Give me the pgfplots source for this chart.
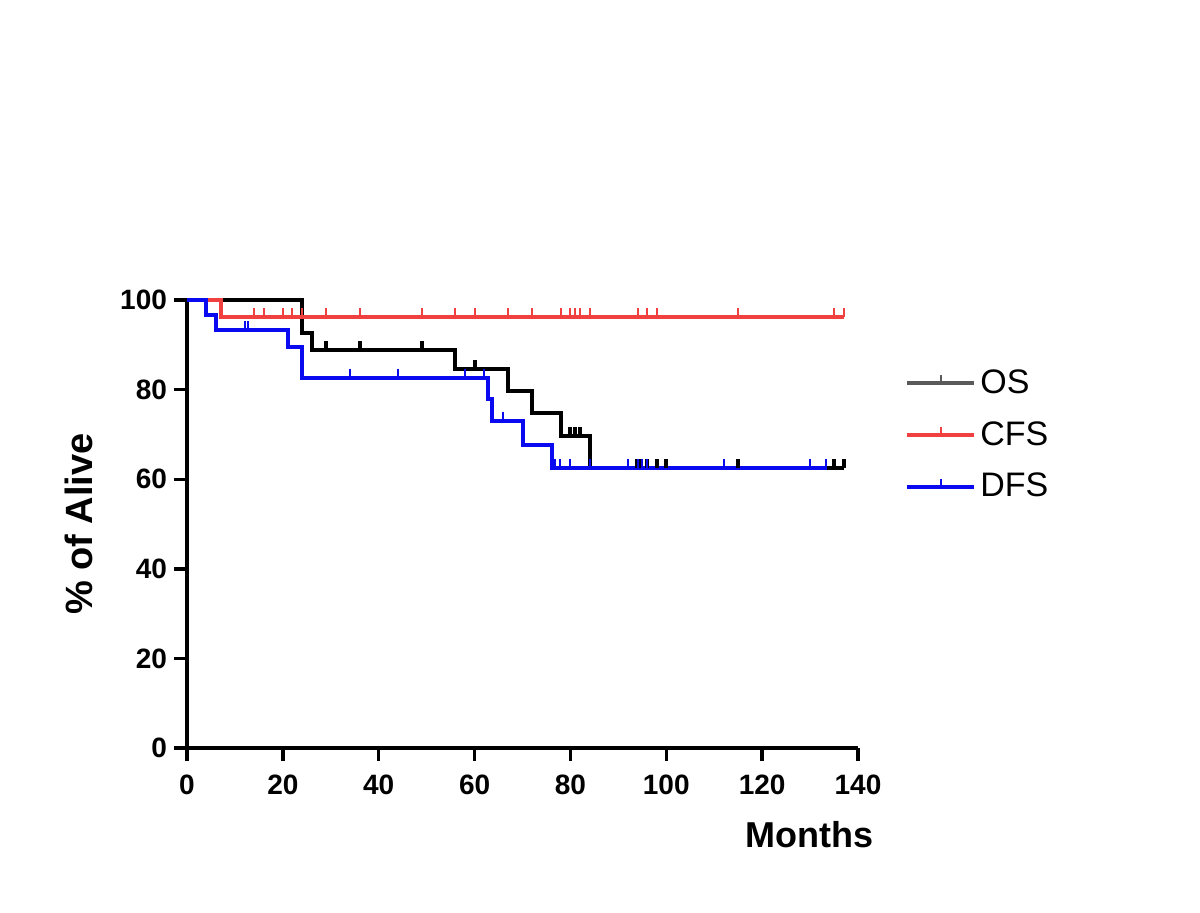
\documentclass[border=0pt]{standalone}
\usepackage{pgfplots}
\pgfplotsset{compat=1.18}
\usepackage{fontspec}
\setmainfont{Liberation Sans}
\definecolor{osblack}{RGB}{0,0,0}
\definecolor{cfsred}{RGB}{240,64,64}
\definecolor{dfsblue}{RGB}{10,10,240}
\definecolor{legend gray}{RGB}{90,90,90}
\pgfdeclareplotmark{cens}{\pgfpathmoveto{\pgfpoint{0pt}{0pt}}\pgfpathlineto{\pgfpoint{0pt}{4.5pt}}\pgfusepathqstroke}
\begin{document}
\begin{tikzpicture}
\path[use as bounding box] (0,0) rectangle (600pt,456pt);
\begin{axis}[
  at={(93.5pt,82pt)}, anchor=south west,
  scale only axis, width=335.5pt, height=224pt,
  xmin=0, xmax=140, ymin=0, ymax=100,
  clip=false,
  axis lines=left,
  axis line style={line width=1.7pt, -},
  xtick={0,20,...,140}, ytick={0,20,...,100},
  tick style={line width=1.7pt, black},
  tick align=outside, major tick length=6.5pt,
  /pgf/number format/assume math mode=true,
  ticklabel style={font=\fontsize{14}{16}\selectfont\bfseries},
  xticklabel style={yshift=-3.5pt},
  xlabel={Months}, ylabel={\% of Alive},
  xlabel style={font=\fontsize{18}{21}\selectfont\bfseries, at={(axis description cs:0.928,-0.194)}, anchor=center},
  ylabel style={font=\fontsize{19}{22}\selectfont\bfseries, at={(axis description cs:-0.161,0.5)}, anchor=center},
  legend style={at={(axis description cs:1.07,0.699)}, anchor=west,
    draw=none, fill=none, inner sep=0pt, row sep=8.5pt,
    font=\fontsize{17}{20}\selectfont},
  legend cell align=left,
  legend image code/.code={
    \draw[#1] (0pt,0pt) -- (33.5pt,0pt);
    \draw[#1, line width=1pt] (16.75pt,0pt) -- (16.75pt,4pt);
  },
]
\addlegendimage{legend gray, line width=2pt}
\addlegendentry{OS}
\addlegendimage{cfsred, line width=2pt}
\addlegendentry{CFS}
\addlegendimage{dfsblue, line width=2pt}
\addlegendentry{DFS}

% OS
\addplot[forget plot, const plot, osblack, line width=2pt] coordinates {
(0,100) (24,92.6) (26,88.9) (56,84.5) (67,79.6) (72,74.7) (78,69.6) (84,62.5) (137,62.5)};
\addplot[forget plot, only marks, mark=cens, osblack, mark options={line width=2pt}] coordinates {
(29,88.9) (36,88.9) (49,88.9) (60,84.5) (80,69.6) (81,69.6) (82,69.6)
(93.8,62.5) (94.6,62.5) (95.9,62.5) (98,62.5) (100,62.5) (115,62.5) (135,62.5) (137,62.5)};

% CFS
\addplot[forget plot, const plot, cfsred, line width=2pt] coordinates {
(0,100) (7,96.3) (137,96.3)};
\addplot[forget plot, only marks, mark=cens, cfsred, mark options={line width=1pt}] coordinates {
(14,96.3) (16,96.3) (20,96.3) (22,96.3) (24,96.3) (29,96.3) (36,96.3) (49,96.3)
(56,96.3) (60,96.3) (67,96.3) (72,96.3) (78,96.3) (80,96.3) (81,96.3) (82,96.3)
(84,96.3) (94,96.3) (96,96.3) (98,96.3) (115,96.3) (135,96.3) (137,96.3)};

% DFS
\addplot[forget plot, const plot, dfsblue, line width=2pt] coordinates {
(0,100) (4,96.6) (6,93.2) (21,89.6) (24,82.6) (62.9,77.9) (63.6,72.9) (70,67.7) (76.1,62.5) (133.5,62.5)};
\addplot[forget plot, only marks, mark=cens, dfsblue, mark options={line width=1pt}] coordinates {
(12.1,93.2) (12.8,93.2) (34,82.6) (44,82.6) (58,82.6) (62,82.6) (66,72.9)
(76.8,62.5) (77.8,62.5) (80,62.5) (84,62.5) (92,62.5) (94,62.5) (95,62.5) (96,62.5)
(112,62.5) (130,62.5) (133.3,62.5)};
\end{axis}
\end{tikzpicture}
\end{document}
